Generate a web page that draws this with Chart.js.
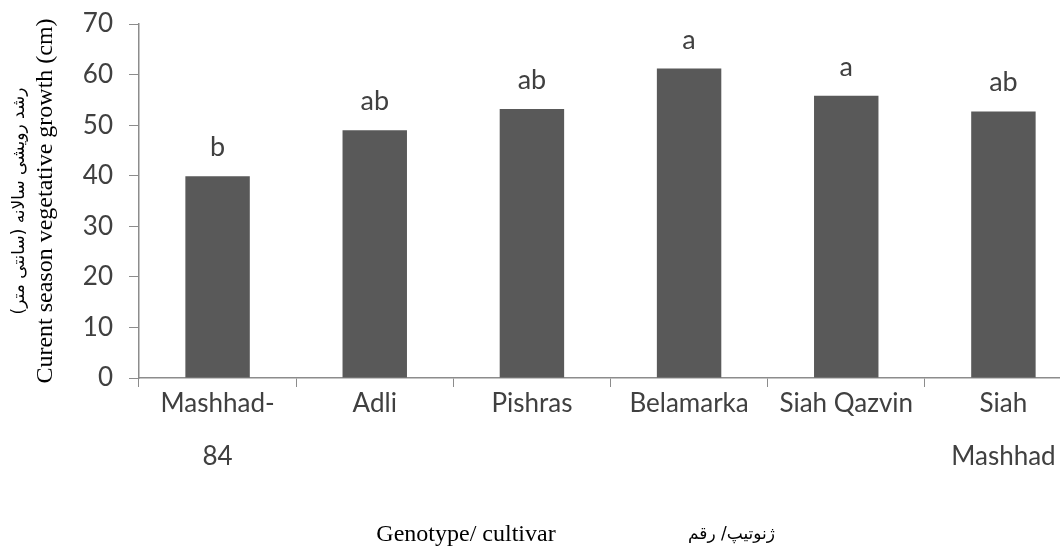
<!DOCTYPE html>
<html>
<head>
<meta charset="utf-8">
<script src="https://cdn.jsdelivr.net/npm/chart.js@4"></script>
<style>
  html, body { margin: 0; padding: 0; background: #fff; overflow: hidden; }
  #wrap { width: 1082px; height: 550px; }
</style>
</head>
<body>
<div id="wrap"><canvas id="myChart"></canvas></div>
<script>
const cultivars = [["Mashhad-", "84"], "Adli", "Pishras", "Belamarka", "Siah Qazvin", ["Siah", "Mashhad"]];
const growth = [39.9, 49.0, 53.2, 61.2, 55.8, 52.7];
const letters = ["b", "ab", "ab", "a", "a", "ab"];
const yTicks = [0, 10, 20, 30, 40, 50, 60, 70];

const textColor = "#404040";
const axisColor = "#8c8c8c";

// letters over bars + the two-language axis titles
const extras = {
  id: "extras",
  afterDatasetsDraw(chart) {
    const ctx = chart.ctx;
    const meta = chart.getDatasetMeta(0);
    ctx.save();
    ctx.fillStyle = textColor;
    ctx.font = "27px Lato";
    ctx.textAlign = "center";
    ctx.textBaseline = "alphabetic";
    meta.data.forEach((bar, i) => {
      ctx.fillText(letters[i], bar.x, bar.y - 20);
    });

    // y title, rotated
    const area = chart.chartArea;
    const midY = (area.top + area.bottom) / 2;
    ctx.translate(0, midY);
    ctx.rotate(-Math.PI / 2);
    ctx.fillStyle = "#000";
    ctx.textBaseline = "middle";
    ctx.font = "17px 'DejaVu Sans'";
    ctx.fillText("رشد رویشی سالانه (سانتی متر)", 0, 20);
    ctx.font = "24px 'Liberation Serif'";
    ctx.fillText("Curent season vegetative growth (cm)", 0, 46);
    ctx.restore();

    ctx.save();
    ctx.fillStyle = "#000";
    ctx.textBaseline = "middle";
    ctx.textAlign = "center";
    ctx.font = "24px 'Liberation Serif'";
    ctx.fillText("Genotype/ cultivar", 466, 535);
    ctx.textAlign = "left";
    ctx.font = "17px 'DejaVu Sans'";
    ctx.fillText("ژنوتیپ/ رقم", 688, 535);
    ctx.restore();
  }
};

new Chart(document.getElementById("myChart"), {
  type: "bar",
  data: {
    labels: cultivars,
    datasets: [{
      data: growth,
      backgroundColor: "#595959",
      barPercentage: 0.41,
      categoryPercentage: 1.0,
    }]
  },
  options: {
    responsive: true,
    maintainAspectRatio: false,
    animation: false,
    layout: { padding: { left: 0, right: 0, top: 24, bottom: 0 } },
    plugins: {
      legend: { display: false },
      tooltip: { enabled: false }
    },
    scales: {
      x: {
        grid: {
          display: true,
          drawOnChartArea: false,
          offset: true,
          color: axisColor,
          tickLength: 9,
        },
        border: { color: axisColor, width: 1.5 },
        ticks: {
          color: textColor,
          font: { family: "Lato", size: 26, lineHeight: 2.05 },
          padding: -10,
          maxRotation: 0,
          autoSkip: false,
        },
        afterFit: scale => { scale.height = 172; }
      },
      y: {
        min: 0,
        max: 70,
        afterBuildTicks: scale => { scale.ticks = yTicks.map(v => ({ value: v })); },
        grid: {
          display: true,
          drawOnChartArea: false,
          color: axisColor,
          tickLength: 10,
        },
        border: { color: axisColor, width: 1.5 },
        ticks: {
          color: textColor,
          font: { family: "Lato", size: 26 },
          padding: 16,
        },
        afterFit: scale => {
          scale.width = 139;
          scale.paddingTop = 0;
        }
      }
    }
  },
  plugins: [extras]
});
</script>
</body>
</html>
